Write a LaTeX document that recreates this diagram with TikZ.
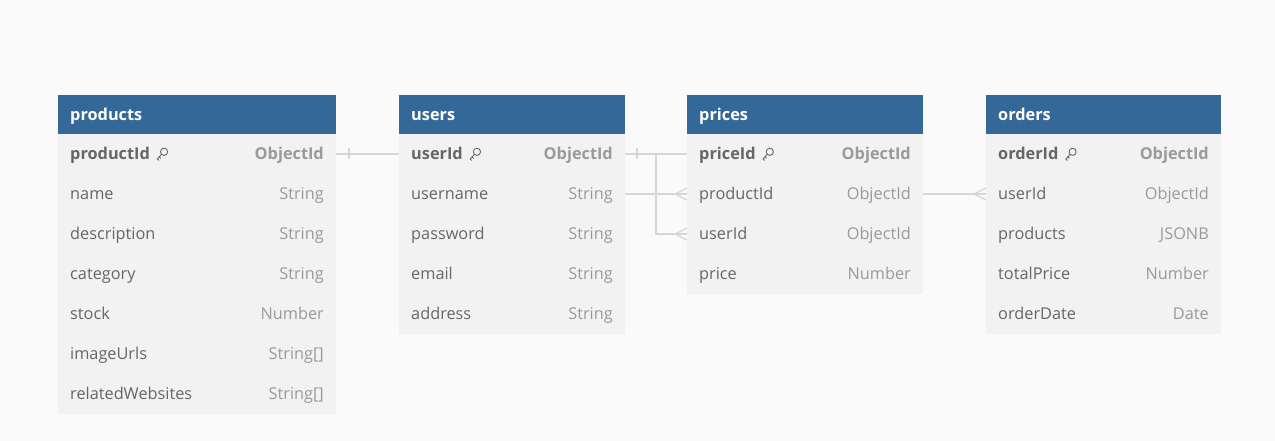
\documentclass[tikz,border=0pt]{standalone}
\usepackage{fontspec}
\setmainfont{Open Sans}
\usetikzlibrary{calc}
\definecolor{hdrblue}{HTML}{336899}
\definecolor{rowfill}{HTML}{F2F2F2}
\definecolor{bgcol}{HTML}{FAFAFA}
\definecolor{linecol}{HTML}{D6D6D6}
\definecolor{fieldcol}{HTML}{666666}
\definecolor{typecol}{HTML}{9A9A9A}
\pgfdeclarelayer{bg}
\pgfdeclarelayer{lines}
\pgfsetlayers{bg,lines,main}
\tikzset{
  hdr/.style={fill=hdrblue, draw=none, minimum height=39pt, inner sep=0pt, outer sep=0pt},
  hdrtext/.style={text=white, font=\fontsize{16.3}{19}\selectfont\bfseries, inner sep=0pt},
  rowbox/.style={fill=rowfill, draw=none, minimum height=40pt, inner sep=0pt, outer sep=0pt},
  fieldtext/.style={text=fieldcol, font=\fontsize{16.3}{19}\selectfont, inner sep=0pt},
  keyfieldtext/.style={text=fieldcol, font=\fontsize{16.3}{19}\selectfont\bfseries, inner sep=0pt},
  typetext/.style={text=typecol, font=\fontsize{16.3}{19}\selectfont, inner sep=0pt},
  keytypetext/.style={text=typecol, font=\fontsize{16.3}{19}\selectfont\bfseries, inner sep=0pt},
  conn/.style={draw=linecol, line width=1.3pt},
  keyicon/.style={draw=fieldcol, line width=0.9pt, line cap=round, line join=round},
}
% #1 id, #2 left x, #3 width, #4 title, #5 rows field/type/key
\newcommand{\erdtable}[5]{%
  \node[hdr, minimum width=#3, anchor=north west] (#1) at (#2,95) {};
  \node[hdrtext, anchor=base west] (#1-title) at ($(#1.west)+(12,6)$) {#4};
  \foreach [count=\i] \f/\t/\k in {#5} {
    \node[rowbox, minimum width=#3, anchor=north west] (#1-\f) at (#2,{134+(\i-1)*40}) {};
    \ifnum\k=1
      \node[keyfieldtext, anchor=base west] (#1-\f-lbl) at ($(#1-\f.west)+(12,5.8)$) {\f};
      \node[keytypetext, anchor=base east] (#1-\f-typ) at ($(#1-\f.east)+(-12,5.8)$) {\t};
      \draw[keyicon] ($(#1-\f-lbl.base east)+(14,-8)$) circle (3.6);
      \draw[keyicon] ($(#1-\f-lbl.base east)+(11.5,-5.4)$) -- ($(#1-\f-lbl.base east)+(7.2,-0.8)$) -- ($(#1-\f-lbl.base east)+(8.8,0.6)$);
      \draw[keyicon] ($(#1-\f-lbl.base east)+(9.2,-3)$) -- ($(#1-\f-lbl.base east)+(10.6,-1.6)$);
    \else
      \node[fieldtext, anchor=base west] (#1-\f-lbl) at ($(#1-\f.west)+(12,5.8)$) {\f};
      \node[typetext, anchor=base east] (#1-\f-typ) at ($(#1-\f.east)+(-12,5.8)$) {\t};
    \fi
  }%
}
\begin{document}
\begin{tikzpicture}[x=1pt, y=-1pt]
\begin{pgfonlayer}{bg}
  \fill[bgcol] (0,0) rectangle (1275,441);
\end{pgfonlayer}
\useasboundingbox (0,0) rectangle (1275,441);

\erdtable{products}{58}{278}{products}{productId/ObjectId/1, name/String/0, description/String/0, category/String/0, stock/Number/0, imageUrls/String[]/0, relatedWebsites/String[]/0}
\erdtable{users}{399}{226}{users}{userId/ObjectId/1, username/String/0, password/String/0, email/String/0, address/String/0}
\erdtable{prices}{687}{236}{prices}{priceId/ObjectId/1, productId/ObjectId/0, userId/ObjectId/0, price/Number/0}
\erdtable{orders}{986}{235}{orders}{orderId/ObjectId/1, userId/ObjectId/0, products/JSONB/0, totalPrice/Number/0, orderDate/Date/0}

\begin{pgfonlayer}{lines}
  % products.productId -> prices.productId
  \draw[conn] (products-productId.east) -| ($(products-productId.east)!0.5!(prices-productId.west)$) |- (prices-productId.west);
  \draw[conn] ($(products-productId.east)+(13,-5.5)$) -- ($(products-productId.east)+(13,5.5)$);
  \draw[conn] ($(prices-productId.west)+(-12,0)$) -- ($(prices-productId.west)+(0,-6)$);
  \draw[conn] ($(prices-productId.west)+(-12,0)$) -- ($(prices-productId.west)+(0,6)$);
  % users.userId -> prices.userId
  \draw[conn] (users-userId.east) -| ($(users-userId.east)!0.5!(prices-userId.west)$) |- (prices-userId.west);
  \draw[conn] ($(users-userId.east)+(12,-5.5)$) -- ($(users-userId.east)+(12,5.5)$);
  \draw[conn] ($(prices-userId.west)+(-12,0)$) -- ($(prices-userId.west)+(0,-6)$);
  \draw[conn] ($(prices-userId.west)+(-12,0)$) -- ($(prices-userId.west)+(0,6)$);
  % users.userId -> orders.userId
  \draw[conn] (users-userId.east) -| ($(users-userId.east)!0.5!(orders-userId.west)$) |- (orders-userId.west);
  \draw[conn] ($(orders-userId.west)+(-12,0)$) -- ($(orders-userId.west)+(0,-6)$);
  \draw[conn] ($(orders-userId.west)+(-12,0)$) -- ($(orders-userId.west)+(0,6)$);
\end{pgfonlayer}
\end{tikzpicture}
\end{document}
